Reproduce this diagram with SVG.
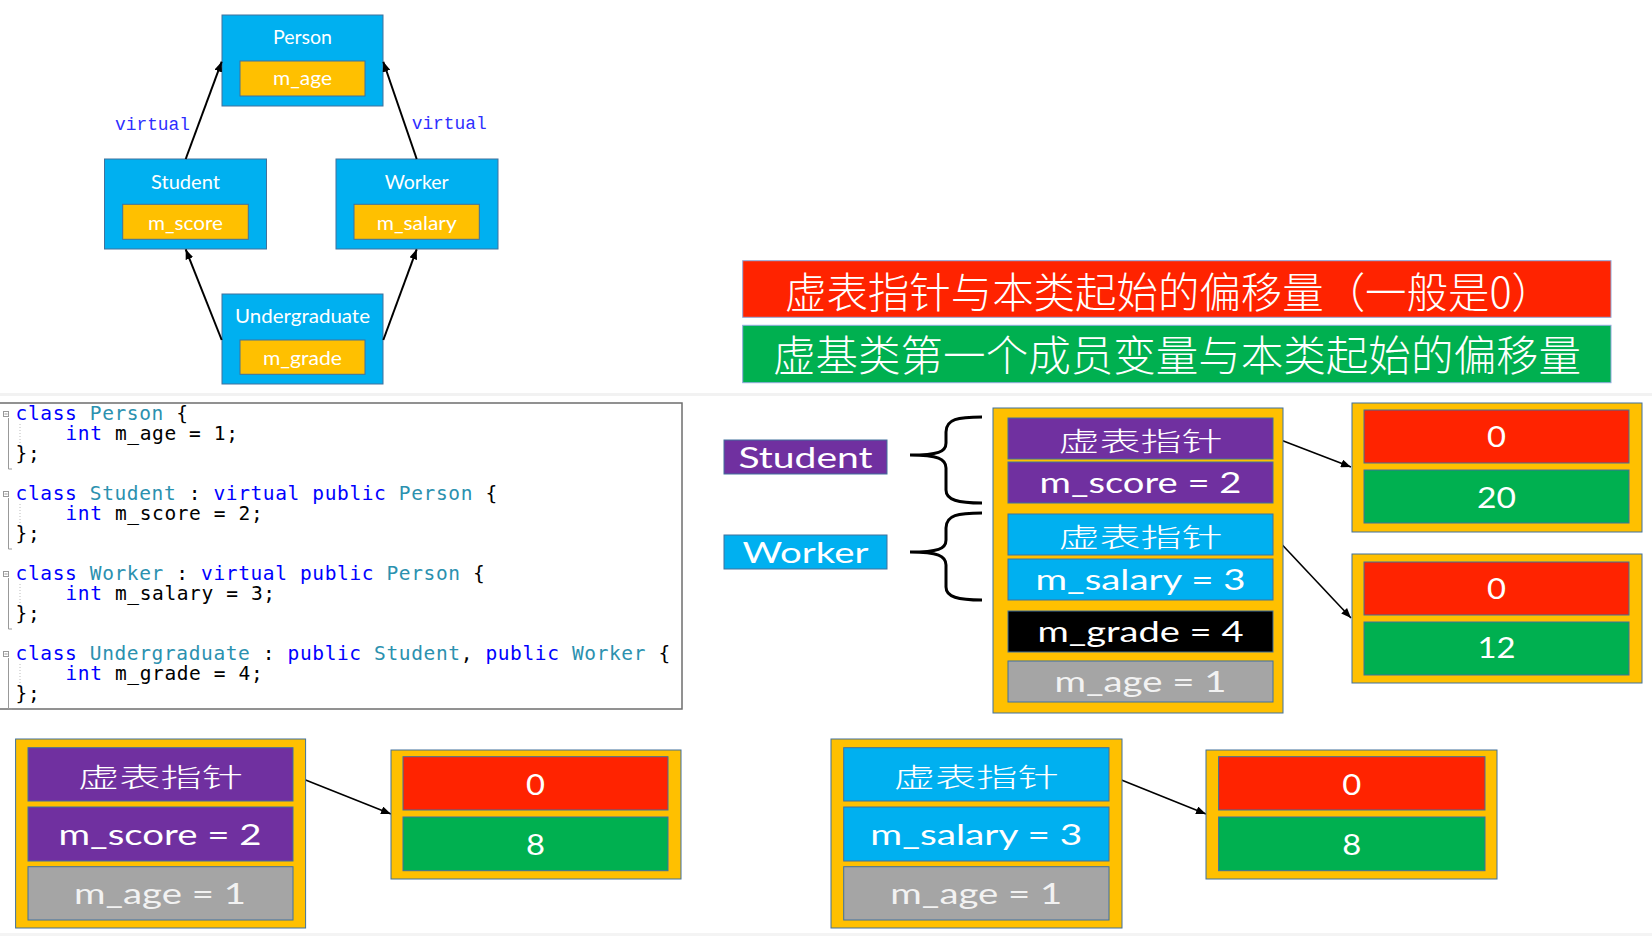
<svg xmlns="http://www.w3.org/2000/svg" width="1652" height="938" viewBox="0 0 1652 938">
<style>
.bl{fill:#00B0F0;stroke:#41719C;stroke-width:1}
.yl{fill:#FFC000;stroke:#41719C;stroke-width:1}
.pu{fill:#7030A0;stroke:#41719C;stroke-width:1}
.rd{fill:#FF2300;stroke:#41719C;stroke-width:1}
.gr{fill:#00B050;stroke:#41719C;stroke-width:1}
.gy{fill:#A5A5A5;stroke:#41719C;stroke-width:1}
.bk{fill:#000000;stroke:#41719C;stroke-width:1}
.lbl{font-family:Lato,"Noto Sans",sans-serif;fill:#fff;text-anchor:middle}
.s19{font-size:20px}
.s28{font-size:28px}
.s29{font-size:29px}
.cjk{font-family:"Noto Sans CJK SC","Noto Sans CJK JP",sans-serif;fill:#fff;font-weight:300}
.code{font-family:"DejaVu Sans Mono","Liberation Mono",monospace;font-size:19.5px;letter-spacing:0.62px;fill:#000}
.kw{fill:#0000FF}
.ty{fill:#2B91AF}
.virt{font-family:"Liberation Mono",monospace;font-size:18px;fill:#2E2EFF}
.conn{stroke:#000;stroke-width:2;fill:none;marker-end:url(#ah)}
.conn2{stroke:#000;stroke-width:1.6;fill:none;marker-end:url(#ah)}
.brace{stroke:#000;stroke-width:3;fill:none}
.fold{fill:none;stroke:#999;stroke-width:1}
.guide{stroke:#bbb;stroke-width:1;stroke-dasharray:1 2}
</style>
<defs>
<marker id="ah" markerUnits="userSpaceOnUse" markerWidth="10" markerHeight="8" refX="10" refY="4" orient="auto">
<path d="M0,0 L10,4 L0,8 z" fill="#000"/>
</marker>
</defs>
<rect width="1652" height="938" fill="#fff"/>
<rect x="0" y="393" width="1652" height="3" fill="#F2F2F2"/>
<rect x="0" y="933" width="1652" height="3" fill="#F4F4F4"/>

<!-- class hierarchy -->
<g id="node-person">
<rect class="bl" x="222" y="15" width="161" height="91"/>
<text class="lbl s19" x="302.5" y="43.5" textLength="59" lengthAdjust="spacingAndGlyphs">Person</text>
<rect class="yl" x="240" y="61" width="125" height="35"/>
<text class="lbl s19" x="302.5" y="85" textLength="59" lengthAdjust="spacingAndGlyphs">m_age</text>
</g>
<g id="node-student">
<rect class="bl" x="104.5" y="159" width="162" height="90"/>
<text class="lbl s19" x="185.5" y="188.5" textLength="69" lengthAdjust="spacingAndGlyphs">Student</text>
<rect class="yl" x="122.7" y="204.3" width="125.6" height="35"/>
<text class="lbl s19" x="185.5" y="229.5" textLength="75" lengthAdjust="spacingAndGlyphs">m_score</text>
</g>
<g id="node-worker">
<rect class="bl" x="336" y="159" width="162" height="90"/>
<text class="lbl s19" x="416.7" y="188.5" textLength="64" lengthAdjust="spacingAndGlyphs">Worker</text>
<rect class="yl" x="354" y="204.3" width="125.3" height="35"/>
<text class="lbl s19" x="416.7" y="229.5" textLength="80" lengthAdjust="spacingAndGlyphs">m_salary</text>
</g>
<g id="node-undergraduate">
<rect class="bl" x="222" y="294" width="161" height="90"/>
<text class="lbl s19" x="302.5" y="322.7" textLength="135" lengthAdjust="spacingAndGlyphs">Undergraduate</text>
<rect class="yl" x="240" y="340" width="125" height="34.3"/>
<text class="lbl s19" x="302.5" y="364.5" textLength="79" lengthAdjust="spacingAndGlyphs">m_grade</text>
</g>
<g id="connectors">
<line class="conn" x1="185.7" y1="159" x2="221.7" y2="61.7"/>
<line class="conn" x1="416.7" y1="159" x2="383.3" y2="61.7"/>
<line class="conn" x1="221.7" y1="340" x2="185.7" y2="249.3"/>
<line class="conn" x1="383.3" y1="340" x2="416.7" y2="249.3"/>
<line class="conn2" x1="1273" y1="437" x2="1351" y2="467"/>
<line class="conn2" x1="1273" y1="535" x2="1351" y2="618"/>
<line class="conn2" x1="293" y1="775" x2="391" y2="814"/>
<line class="conn2" x1="1109" y1="775" x2="1206" y2="814"/>
</g>
<g id="virtual-labels">
<text class="virt" x="115" y="130" textLength="75" lengthAdjust="spacingAndGlyphs">virtual</text>
<text class="virt" x="411.7" y="129.3" textLength="75" lengthAdjust="spacingAndGlyphs">virtual</text>
</g>

<!-- code listing -->
<g id="code">
<rect x="-2" y="403" width="684" height="306" fill="#fff" stroke="#6E6E6E" stroke-width="1.5"/>
<g id="fold-markers">
<rect class="fold" x="3.5" y="411.5" width="5" height="5"/><line class="fold" x1="4.5" y1="414" x2="7.5" y2="414"/><path class="fold" d="M8.5,418 V469 H12"/><line class="guide" x1="20" y1="424" x2="20" y2="444"/>
<rect class="fold" x="3.5" y="491.5" width="5" height="5"/><line class="fold" x1="4.5" y1="494" x2="7.5" y2="494"/><path class="fold" d="M8.5,498 V549 H12"/><line class="guide" x1="20" y1="504" x2="20" y2="524"/>
<rect class="fold" x="3.5" y="571.5" width="5" height="5"/><line class="fold" x1="4.5" y1="574" x2="7.5" y2="574"/><path class="fold" d="M8.5,578 V629 H12"/><line class="guide" x1="20" y1="584" x2="20" y2="604"/>
<rect class="fold" x="3.5" y="651.5" width="5" height="5"/><line class="fold" x1="4.5" y1="654" x2="7.5" y2="654"/><path class="fold" d="M8.5,658 V709 H12"/><line class="guide" x1="20" y1="664" x2="20" y2="684"/>
</g>
<text class="code" x="15.6" y="419.5"><tspan class="kw">class</tspan> <tspan class="ty">Person</tspan> {</text>
<text class="code" x="65.5" y="439.5"><tspan class="kw">int</tspan> m_age = 1;</text>
<text class="code" x="15.6" y="459.5">};</text>
<text class="code" x="15.6" y="499.5"><tspan class="kw">class</tspan> <tspan class="ty">Student</tspan> : <tspan class="kw">virtual</tspan> <tspan class="kw">public</tspan> <tspan class="ty">Person</tspan> {</text>
<text class="code" x="65.5" y="519.5"><tspan class="kw">int</tspan> m_score = 2;</text>
<text class="code" x="15.6" y="539.5">};</text>
<text class="code" x="15.6" y="579.5"><tspan class="kw">class</tspan> <tspan class="ty">Worker</tspan> : <tspan class="kw">virtual</tspan> <tspan class="kw">public</tspan> <tspan class="ty">Person</tspan> {</text>
<text class="code" x="65.5" y="599.5"><tspan class="kw">int</tspan> m_salary = 3;</text>
<text class="code" x="15.6" y="619.5">};</text>
<text class="code" x="15.6" y="659.5"><tspan class="kw">class</tspan> <tspan class="ty">Undergraduate</tspan> : <tspan class="kw">public</tspan> <tspan class="ty">Student</tspan>, <tspan class="kw">public</tspan> <tspan class="ty">Worker</tspan> {</text>
<text class="code" x="65.5" y="679.5"><tspan class="kw">int</tspan> m_grade = 4;</text>
<text class="code" x="15.6" y="699.5">};</text>
</g>

<!-- legend banners -->
<g id="banner-red">
<rect class="rd" x="742.7" y="260.7" width="868.3" height="56.6" style="stroke:#8FAADC"/>
<text class="cjk" x="785" y="307.5" font-size="42" textLength="768" lengthAdjust="spacingAndGlyphs">虚表指针与本类起始的偏移量（一般是0）</text>
</g>
<g id="banner-green">
<rect class="gr" x="742.7" y="325.3" width="868.3" height="57.4" style="stroke:#8FAADC"/>
<text class="cjk" x="773" y="370.5" font-size="42.5" textLength="808" lengthAdjust="spacingAndGlyphs">虚基类第一个成员变量与本类起始的偏移量</text>
</g>

<!-- Undergraduate layout -->
<g id="label-student">
<rect class="pu" x="724" y="440" width="163" height="34"/>
<text class="lbl s28" x="805.5" y="468" textLength="134" lengthAdjust="spacingAndGlyphs">Student</text>
</g>
<g id="label-worker">
<rect class="bl" x="724" y="535" width="163" height="34"/>
<text class="lbl s28" x="805.5" y="563" textLength="126" lengthAdjust="spacingAndGlyphs">Worker</text>
</g>
<g id="braces">
<path class="brace" d="M982,417 C958,417 946,419 946,432 L946,443 C946,452 938,455 910,455 C938,455 946,459 946,468 L946,490 C946,500 958,503 982,503"/>
<path class="brace" d="M982,513 C958,513 946,515 946,528 L946,540 C946,549 938,552 910,552 C938,552 946,556 946,565 L946,587 C946,597 958,600 982,600"/>
</g>
<g id="ug-layout">
<rect class="yl" x="993" y="408" width="290" height="305"/>
<rect class="pu" x="1008" y="418" width="265" height="41"/>
<text class="cjk" x="1140.5" y="450.5" font-size="26" text-anchor="middle" textLength="164" lengthAdjust="spacingAndGlyphs">虚表指针</text>
<rect class="pu" x="1008" y="462" width="265" height="41"/>
<text class="lbl s29" x="1140.5" y="493" textLength="202" lengthAdjust="spacingAndGlyphs">m_score = 2</text>
<rect class="bl" x="1008" y="514" width="265" height="41"/>
<text class="cjk" x="1140.5" y="546.5" font-size="26" text-anchor="middle" textLength="164" lengthAdjust="spacingAndGlyphs">虚表指针</text>
<rect class="bl" x="1008" y="559" width="265" height="41"/>
<text class="lbl s29" x="1140.5" y="590" textLength="210" lengthAdjust="spacingAndGlyphs">m_salary = 3</text>
<rect class="bk" x="1008" y="611" width="265" height="41"/>
<text class="lbl s29" x="1140.5" y="642" textLength="206" lengthAdjust="spacingAndGlyphs">m_grade = 4</text>
<rect class="gy" x="1008" y="661" width="265" height="41"/>
<text class="lbl s29" x="1140.5" y="692" textLength="172" lengthAdjust="spacingAndGlyphs" style="fill:#F2F2F2">m_age = 1</text>
</g>
<g id="vbtable-student">
<rect class="yl" x="1352" y="403" width="290" height="129"/>
<rect class="rd" x="1364" y="410" width="265" height="53"/>
<text class="lbl s28" x="1496.5" y="447" textLength="19" lengthAdjust="spacingAndGlyphs">0</text>
<rect class="gr" x="1364" y="470" width="265" height="53"/>
<text class="lbl s28" x="1496.5" y="508" textLength="39" lengthAdjust="spacingAndGlyphs">20</text>
</g>
<g id="vbtable-worker">
<rect class="yl" x="1352" y="554" width="290" height="129"/>
<rect class="rd" x="1364" y="562" width="265" height="53"/>
<text class="lbl s28" x="1496.5" y="599" textLength="19" lengthAdjust="spacingAndGlyphs">0</text>
<rect class="gr" x="1364" y="622" width="265" height="53"/>
<text class="lbl s28" x="1496.5" y="658" textLength="38" lengthAdjust="spacingAndGlyphs">12</text>
</g>

<!-- Student layout -->
<g id="student-layout">
<rect class="yl" x="15.6" y="739" width="290" height="189"/>
<rect class="pu" x="28" y="747.7" width="265" height="53.3"/>
<text class="cjk" x="160.5" y="786.5" font-size="26" text-anchor="middle" textLength="165" lengthAdjust="spacingAndGlyphs">虚表指针</text>
<rect class="pu" x="28" y="807" width="265" height="54"/>
<text class="lbl s29" x="160" y="845" textLength="203" lengthAdjust="spacingAndGlyphs">m_score = 2</text>
<rect class="gy" x="28" y="866.7" width="265" height="53.3"/>
<text class="lbl s29" x="160" y="904" textLength="172" lengthAdjust="spacingAndGlyphs" style="fill:#F2F2F2">m_age = 1</text>
</g>
<g id="student-vbtable">
<rect class="yl" x="391" y="750" width="290" height="129"/>
<rect class="rd" x="403" y="756.7" width="265" height="53.3"/>
<text class="lbl s28" x="535.5" y="795" textLength="19" lengthAdjust="spacingAndGlyphs">0</text>
<rect class="gr" x="403" y="817" width="265" height="53.7"/>
<text class="lbl s28" x="535.5" y="855" textLength="19" lengthAdjust="spacingAndGlyphs">8</text>
</g>

<!-- Worker layout -->
<g id="worker-layout">
<rect class="yl" x="831" y="739" width="291" height="189"/>
<rect class="bl" x="843.7" y="747.7" width="265.3" height="53.3"/>
<text class="cjk" x="976.3" y="786.5" font-size="26" text-anchor="middle" textLength="165" lengthAdjust="spacingAndGlyphs">虚表指针</text>
<rect class="bl" x="843.7" y="807" width="265.3" height="54"/>
<text class="lbl s29" x="976.3" y="845" textLength="212" lengthAdjust="spacingAndGlyphs">m_salary = 3</text>
<rect class="gy" x="843.7" y="866.7" width="265.3" height="53.3"/>
<text class="lbl s29" x="976.3" y="904" textLength="172" lengthAdjust="spacingAndGlyphs" style="fill:#F2F2F2">m_age = 1</text>
</g>
<g id="worker-vbtable">
<rect class="yl" x="1206" y="750" width="291" height="129"/>
<rect class="rd" x="1218.6" y="756.7" width="266.4" height="53.3"/>
<text class="lbl s28" x="1351.8" y="795" textLength="19" lengthAdjust="spacingAndGlyphs">0</text>
<rect class="gr" x="1218.6" y="817" width="266.4" height="53.7"/>
<text class="lbl s28" x="1351.8" y="855" textLength="19" lengthAdjust="spacingAndGlyphs">8</text>
</g>
</svg>
